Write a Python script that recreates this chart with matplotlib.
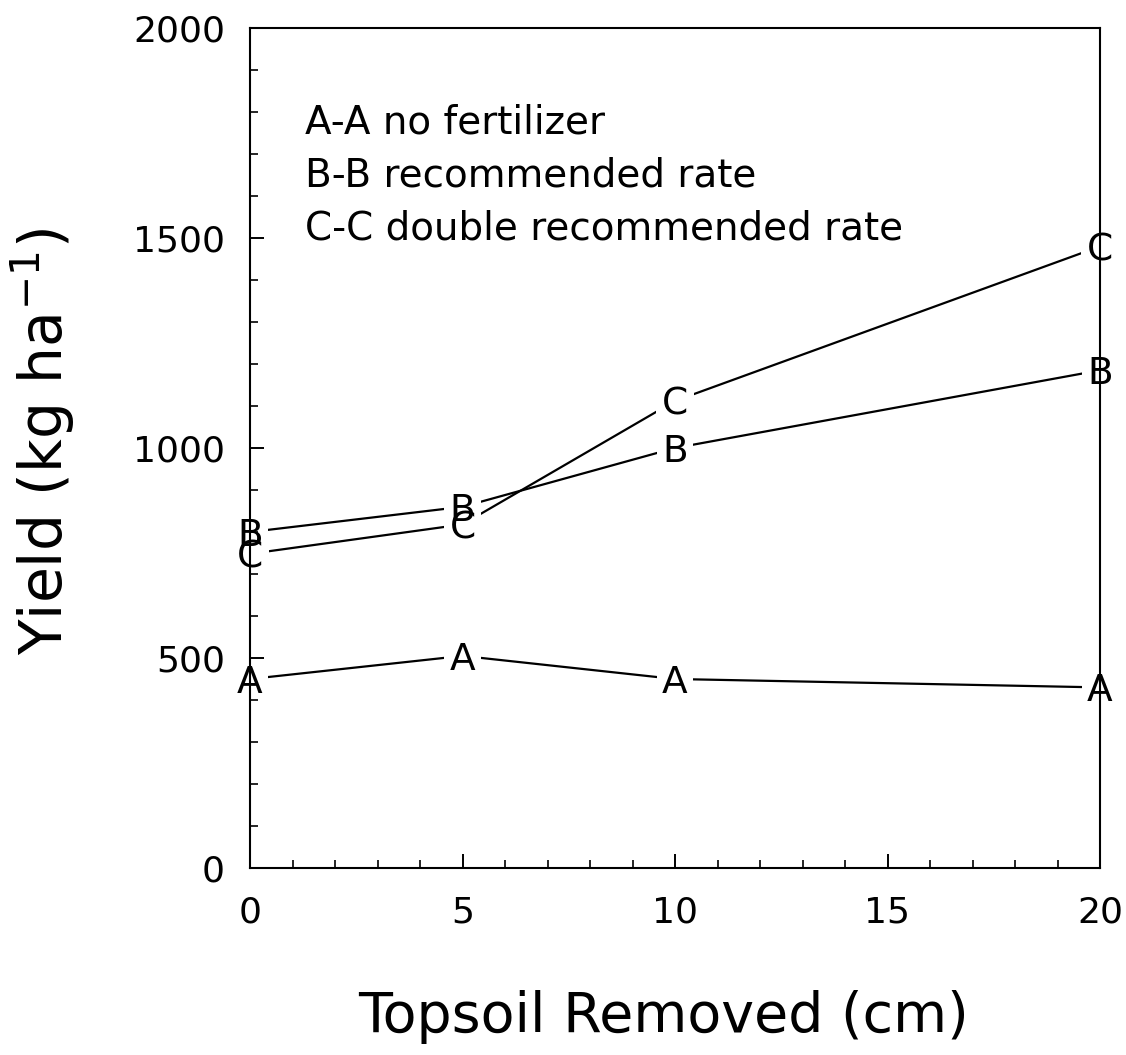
import matplotlib
matplotlib.use("Agg")
import matplotlib.pyplot as plt
from matplotlib.ticker import MultipleLocator

plt.rcParams['font.family'] = ['DejaVu Sans']
plt.rcParams['mathtext.fontset'] = 'dejavusans'

# Data
topsoil = [0, 5, 10, 20]
yield_A = [450, 505, 450, 430]
yield_B = [800, 860, 1000, 1185]
yield_C = [748, 818, 1112, 1480]
legend_texts = ["A-A no fertilizer", "B-B recommended rate", "C-C double recommended rate"]
x_ticks = [0, 5, 10, 15, 20]
y_ticks = [0, 500, 1000, 1500, 2000]

fig = plt.figure(figsize=(11.26, 10.55), dpi=100)
ax = fig.add_axes([250/1126, 1-868/1055, 850/1126, 840/1055])

series = [("A", yield_A), ("C", yield_C), ("B", yield_B)]
for lab, vals in series:
    ax.plot(topsoil, vals, color='black', lw=1.6, zorder=2)
# white gap boxes (drawn first so that neighbouring letters stay visible)
for lab, vals in series:
    for x, y in zip(topsoil, vals):
        ax.text(x, y, lab, fontsize=27, ha='center', va='center_baseline', color='white',
                bbox=dict(boxstyle='square,pad=0.15', fc='white', ec='none'),
                zorder=2.1, clip_on=False)
# letters
for lab, vals in series:
    for x, y in zip(topsoil, vals):
        ax.text(x, y, lab, fontsize=27, ha='center', va='center_baseline', color='black',
                zorder=2.3, clip_on=False)

ax.set_xlim(0, 20)
ax.set_ylim(0, 2000)
ax.set_xticks(x_ticks)
ax.set_yticks(y_ticks)
ax.set_xticklabels([str(t) for t in x_ticks])
ax.set_yticklabels([str(t) for t in y_ticks])
ax.xaxis.set_minor_locator(MultipleLocator(1))
ax.yaxis.set_minor_locator(MultipleLocator(100))
ax.set_axisbelow(False)
ax.tick_params(which='major', direction='in', length=10, width=1.4, labelsize=26, pad=20)
ax.tick_params(which='minor', direction='in', length=5.5, width=1.2)
ax.tick_params(axis='y', which='major', pad=18)
for s in ax.spines.values():
    s.set_linewidth(1.5)
    s.set_zorder(2.5)

# legend-like text block
legend_y = [0.874, 0.811, 0.748]
for txt, yy in zip(legend_texts, legend_y):
    ax.text(0.065, yy, txt, transform=ax.transAxes, fontsize=28, ha='left', va='baseline')

fig.text(663/1126, 1-1032/1055, "Topsoil Removed (cm)", fontsize=40, ha='center', va='baseline')
fig.text(63/1126, 1-442/1055, r"Yield (kg ha$^{-1}$)", fontsize=42, rotation=90,
         rotation_mode='anchor', ha='center', va='baseline')

fig.savefig("out.png", dpi=100)
